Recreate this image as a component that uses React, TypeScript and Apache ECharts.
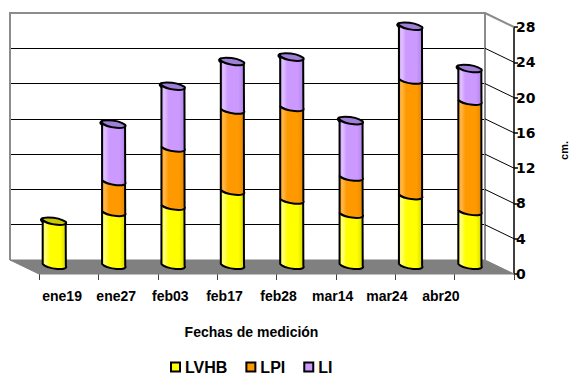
import React, { useEffect, useRef } from "react";
import * as echarts from "echarts";

// Measurement dates and stacked heights (cm) of each layer
const categories = ["ene19", "ene27", "feb03", "feb17", "feb28", "mar14", "mar24", "abr20"];
const lvhb = [5.0, 6.0, 6.7, 8.4, 7.4, 5.8, 7.9, 6.1];
const lpi = [0, 3.5, 6.6, 9.2, 10.5, 4.2, 13.1, 12.5];
const li = [0, 6.5, 7.0, 5.5, 5.7, 6.4, 6.1, 3.7];
const cmTicks = [0, 4, 8, 12, 16, 20, 24, 28];

const layers = [
  { name: "LVHB", values: lvhb, color: "#FFFF00", light: "#FFFF88", dark: "#D6D600", cap: "#C8C800" },
  { name: "LPI", values: lpi, color: "#FF9900", light: "#FFB84D", dark: "#E08500", cap: "#CC7A00" },
  { name: "LI", values: li, color: "#CC99FF", light: "#E0C2FF", dark: "#B083E6", cap: "#9F80D6" },
];

// depth of the floor (back edge to front edge) in pixels
const DEPTH_X = 29;
const DEPTH_Y = 14;
const BAR_HALF = 11.5;
const SLANT = 2;
const RY = 3.4;
const FONT = "'Liberation Sans', Arial, sans-serif";

function buildStack() {
  const out: number[][][] = layers.map(() => []);
  categories.forEach((_, i) => {
    let base = 0;
    let topIdx = -1;
    layers.forEach((l, k) => {
      if (l.values[i] > 0) topIdx = k;
    });
    layers.forEach((l, k) => {
      const v = l.values[i];
      out[k].push([i, base, base + v, k === topIdx ? 1 : 0]);
      base += v;
    });
  });
  return out;
}

export default function App() {
  const ref = useRef<HTMLDivElement>(null);

  useEffect(() => {
    if (!ref.current) return;
    const chart = echarts.init(ref.current, null, { renderer: "svg" });
    const stacks = buildStack();

    const rx = Math.hypot(2 * BAR_HALF, 2 * SLANT) / 2;
    const ang = (Math.atan2(2 * SLANT, 2 * BAR_HALF) * 180) / Math.PI;

    const cylinderSeries = layers.map((l, k) => ({
      type: "custom",
      name: l.name,
      xAxisIndex: 0,
      yAxisIndex: 0,
      itemStyle: { color: l.color },
      data: stacks[k],
      z: 5 + k,
      renderItem: (params: any, api: any) => {
        const cat = api.value(0);
        const base = api.value(1);
        const top = api.value(2);
        const isTop = api.value(3);
        if (!(top > base)) return null;
        const pT = api.coord([cat, top]);
        const pB = api.coord([cat, base]);
        const cx = pT[0] + DEPTH_X / 2;
        const yT = pT[1] + DEPTH_Y / 2 - 1;
        const yB = pB[1] + DEPTH_Y / 2 - 1;
        const xl = cx - BAR_HALF;
        const xr = cx + BAR_HALF;
        const grad = new echarts.graphic.LinearGradient(0, 0, 1, 0, [
          { offset: 0, color: l.color },
          { offset: 0.12, color: l.light },
          { offset: 0.3, color: l.color },
          { offset: 0.75, color: l.color },
          { offset: 1, color: l.dark },
        ]);
        const body =
          `M ${xl} ${yT - SLANT} L ${xl} ${yB - SLANT} ` +
          `A ${rx} ${RY} ${ang} 0 0 ${xr} ${yB + SLANT} L ${xr} ${yT + SLANT}`;
        const children: any[] = [
          {
            type: "path",
            shape: { pathData: body },
            style: { fill: grad, stroke: "#000", lineWidth: 2 },
          },
        ];
        if (isTop) {
          const cap =
            `M ${xl} ${yT - SLANT} A ${rx} ${RY} ${ang} 0 0 ${xr} ${yT + SLANT} ` +
            `A ${rx} ${RY} ${ang} 0 0 ${xl} ${yT - SLANT} Z`;
          children.push({
            type: "path",
            shape: { pathData: cap },
            style: { fill: l.cap, stroke: "#000", lineWidth: 2 },
          });
        }
        return { type: "group", children };
      },
    }));

    // floor, wall borders and the side-wall grid lines
    const frameSeries = {
      type: "custom",
      name: "frame",
      xAxisIndex: 0,
      yAxisIndex: 0,
      silent: true,
      z: 2,
      data: cmTicks.map((t) => [0, t]),
      renderItem: (params: any, api: any) => {
        const cs = params.coordSys;
        const t = api.value(1);
        const right = cs.x + cs.width;
        const y = api.coord([0, t])[1];
        const children: any[] = [];
        if (t === 0) {
          const bottom = cs.y + cs.height;
          children.push({
            type: "polygon",
            shape: {
              points: [
                [cs.x, bottom],
                [right, bottom],
                [right + DEPTH_X, bottom + DEPTH_Y],
                [cs.x + DEPTH_X, bottom + DEPTH_Y],
              ],
            },
            style: { fill: "#808080", stroke: "#808080", lineWidth: 1 },
          });
          children.push({
            type: "polyline",
            shape: {
              points: [
                [cs.x, bottom],
                [cs.x, cs.y],
                [right, cs.y],
                [right, bottom],
              ],
            },
            style: { fill: null, stroke: "#8C8C8C", lineWidth: 2 },
          });
          children.push({
            type: "line",
            shape: { x1: right, y1: cs.y, x2: right + DEPTH_X, y2: cs.y + DEPTH_Y },
            style: { stroke: "#8C8C8C", lineWidth: 2 },
          });
        } else if (t < 28) {
          children.push({
            type: "line",
            shape: { x1: right, y1: y, x2: right + DEPTH_X, y2: y + DEPTH_Y },
            style: { stroke: "#000", lineWidth: 1 },
          });
        }
        return { type: "group", children };
      },
    };

    const option: any = {
      animation: false,
      backgroundColor: "#fff",
      grid: [
        // back wall
        { left: 10, right: 88, top: 13, bottom: 115, outerBoundsMode: "none" },
        // front edge with the value axis
        { left: 39, right: 59, top: 27, bottom: 101, outerBoundsMode: "none" },
        // date labels
        { left: 35, right: 105, top: 27, bottom: 91, outerBoundsMode: "none" },
      ],
      xAxis: [
        {
          gridIndex: 0,
          type: "category",
          data: categories,
          show: false,
        },
        {
          gridIndex: 1,
          type: "category",
          data: categories,
          boundaryGap: true,
          axisLine: { show: false },
          axisTick: { show: true, length: 6, lineStyle: { color: "#404040", width: 1 } },
          axisLabel: { show: false },
        },
        {
          gridIndex: 2,
          type: "category",
          data: categories,
          axisLine: { show: false },
          axisTick: { show: false },
          axisLabel: {
            margin: 5,
            color: "#000",
            fontFamily: FONT,
            fontWeight: "bold",
            fontSize: 14,
          },
          name: "Fechas de medición",
          nameLocation: "middle",
          nameGap: 41,
          nameTextStyle: {
            color: "#000",
            fontFamily: FONT,
            fontWeight: "bold",
            fontSize: 14,
          },
        },
      ],
      yAxis: [
        {
          gridIndex: 0,
          type: "value",
          min: 0,
          max: 28,
          interval: 4,
          axisLine: { show: false },
          axisTick: { show: false },
          axisLabel: { show: false },
          splitLine: { show: true, lineStyle: { color: "#000", width: 1 } },
        },
        {
          gridIndex: 1,
          type: "value",
          position: "right",
          min: 0,
          max: 28,
          interval: 4,
          axisLine: { show: true, lineStyle: { color: "#000", width: 1.5 } },
          axisTick: { show: true, inside: false, length: 4, lineStyle: { color: "#000", width: 1.5 } },
          axisLabel: {
            margin: 2,
            color: "#000",
            fontFamily: "'DejaVu Sans', sans-serif",
            fontWeight: "bold",
            fontSize: 14,
          },
          splitLine: { show: false },
          name: "cm.",
          nameLocation: "middle",
          nameRotate: 90,
          nameGap: 44,
          nameTextStyle: {
            color: "#000",
            fontFamily: FONT,
            fontWeight: "bold",
            fontSize: 11,
          },
        },
        {
          gridIndex: 2,
          type: "value",
          show: false,
        },
      ],
      legend: {
        left: 170,
        top: 359,
        padding: 0,
        itemWidth: 9,
        itemHeight: 9,
        itemGap: 18,
        icon: "rect",
        textStyle: {
          color: "#000",
          fontFamily: FONT,
          fontWeight: "bold",
          fontSize: 16,
        },
        data: layers.map((l) => ({
          name: l.name,
          itemStyle: { color: l.color, borderColor: "#000", borderWidth: 2 },
        })),
      },
      series: [frameSeries, ...cylinderSeries],
    };

    chart.setOption(option);
    return () => chart.dispose();
  }, []);

  return (
    <div
      ref={ref}
      style={{ position: "fixed", left: 0, top: 0, width: 573, height: 375, background: "#fff" }}
    />
  );
}
